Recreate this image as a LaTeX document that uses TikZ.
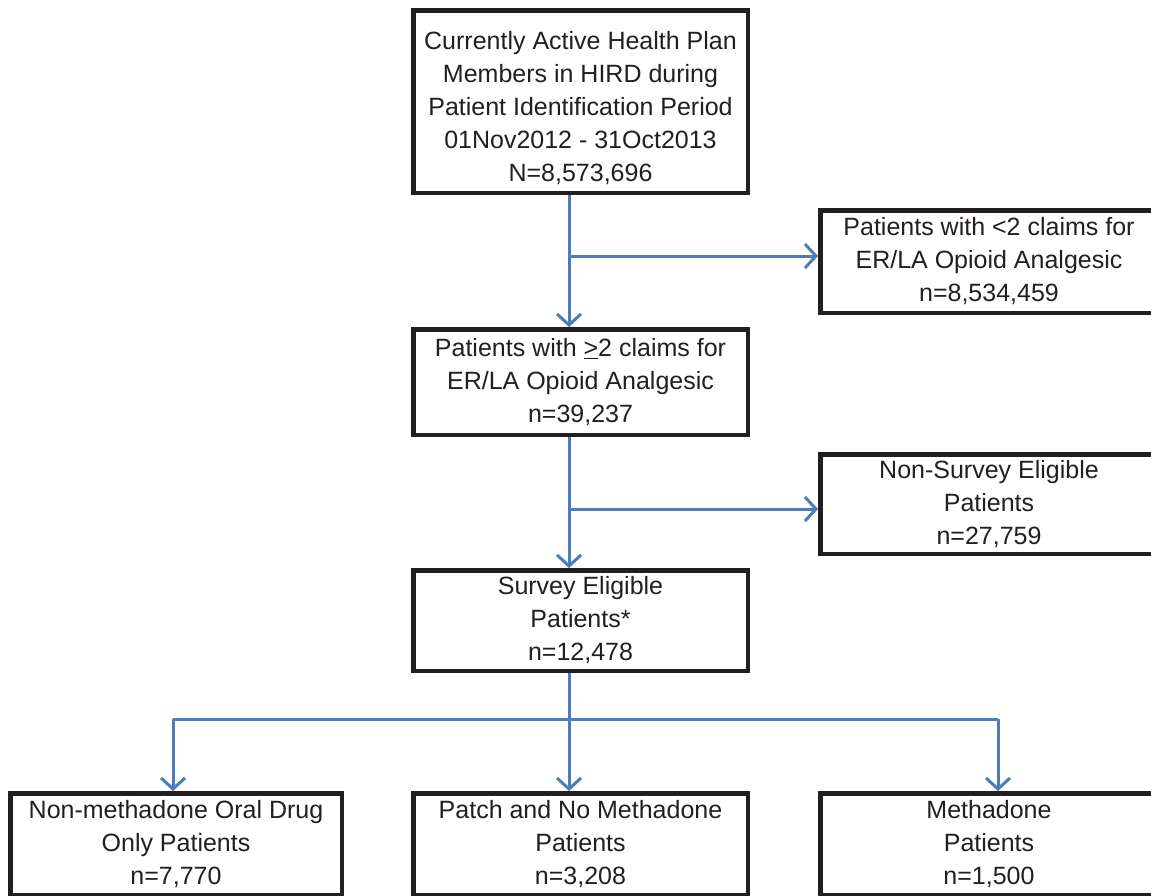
\documentclass[tikz,border=0pt]{standalone}
\usepackage{fontspec}
\setmainfont{Liberation Sans}
\usetikzlibrary{arrows.meta}
\definecolor{ink}{HTML}{231F20}
\definecolor{flow}{HTML}{4A7EBB}
\begin{document}
\begin{tikzpicture}[x=1pt,y=-1pt,
  box/.style={draw=ink, line width=4.5pt, fill=white, inner sep=0pt, align=center,
    text=ink, font=\fontsize{25pt}{33pt}\selectfont},
  arr/.style={draw=flow, line width=3pt,
    -{Straight Barb[length=11pt,width=24pt,line width=3pt]}},
  link/.style={draw=flow, line width=3pt}]
\clip (0,0) rectangle (1151,895);
\fill[white] (0,0) rectangle (1151,895);

% main column
\node[box, minimum width=334.5pt, minimum height=182.5pt] (b1) at (580.5,101.5)
  {\rule{0pt}{31pt}Currently Active Health Plan\\Members in HIRD during\\Patient Identification Period\\01Nov2012 - 31Oct2013\\N=8,573,696};
\node[box, minimum width=334.5pt, minimum height=105.5pt] (b3) at (580.5,382)
  {Patients with \underline{>}2 claims for\\ER/LA Opioid Analgesic\\n=39,237};
\node[box, minimum width=334.5pt, minimum height=100.5pt] (b5) at (580.5,620.5)
  {Survey Eligible\\Patients*\\n=12,478};

% exclusions on the right
\node[box, minimum width=337.5pt, minimum height=102.5pt] (b2) at (989,261.5)
  {Patients with <2 claims for\\ER/LA Opioid Analgesic\\n=8,534,459};
\node[box, minimum width=337.5pt, minimum height=99.5pt] (b4) at (989,504)
  {Non-Survey Eligible\\Patients\\n=27,759};

% treatment groups
\node[box, minimum width=331.5pt, minimum height=101.5pt] (b6) at (176,844)
  {Non-methadone Oral Drug\\Only Patients\\n=7,770};
\node[box, minimum width=334.5pt, minimum height=101.5pt] (b7) at (580.5,844)
  {Patch and No Methadone\\Patients\\n=3,208};
\node[box, minimum width=337.5pt, minimum height=101.5pt] (b8) at (989,844)
  {Methadone\\Patients\\n=1,500};

% trunk and junctions
\coordinate (trunk) at (569,0);
\coordinate (j1) at (569,256);
\coordinate (j2) at (569,509);
\coordinate (jl) at (173,719);
\coordinate (jr) at (998,719);

\draw[arr] (b1.south -| trunk) -- (b3.north -| trunk);
\draw[arr] (j1) -- (j1 -| b2.west);
\draw[arr] (b3.south -| trunk) -- (b5.north -| trunk);
\draw[arr] (j2) -- (j2 -| b4.west);
\draw[arr] (b5.south -| trunk) -- (b7.north -| trunk);
\draw[link] (jl) -- (jr);
\draw[arr] (jl) -- (jl |- b6.north);
\draw[arr] (jr) -- (jr |- b8.north);
\end{tikzpicture}
\end{document}
